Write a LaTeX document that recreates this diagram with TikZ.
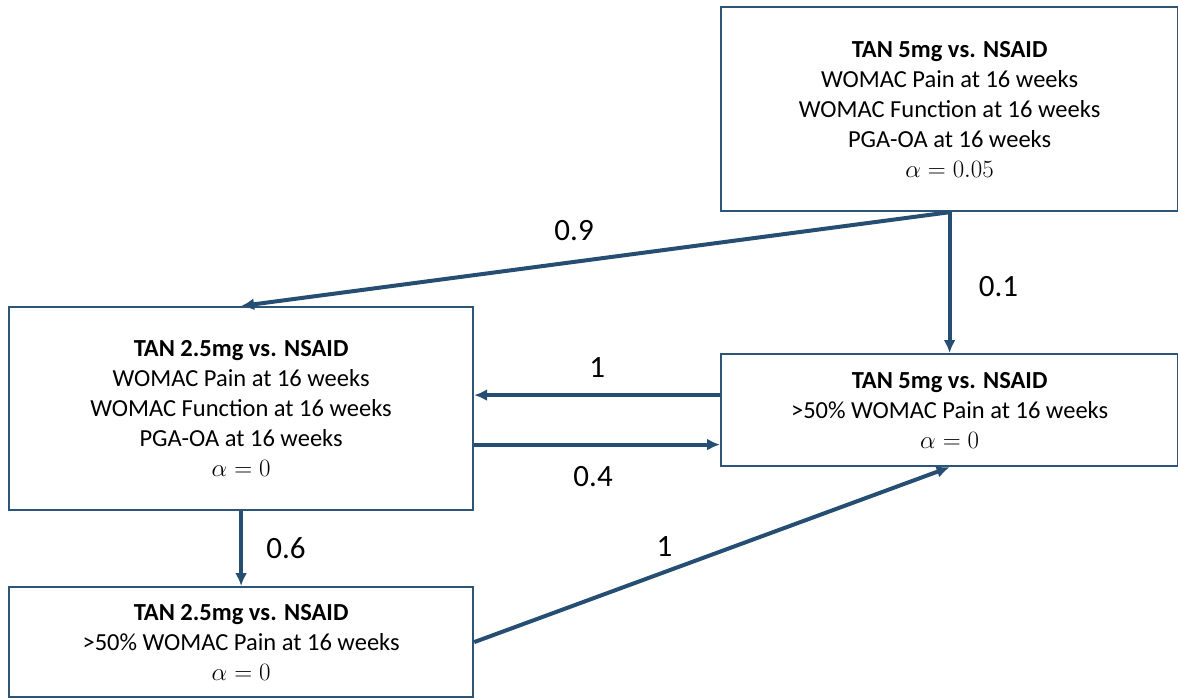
\documentclass[tikz,border=0pt]{standalone}
\usepackage{fontspec}
\setmainfont{Carlito}
\usetikzlibrary{arrows.meta,positioning,calc}
\definecolor{edge}{RGB}{38,78,115}
\definecolor{frame}{RGB}{45,85,120}
\tikzset{
  box/.style={draw=frame,line width=2.2pt,rectangle,anchor=north west,align=center,
    inner sep=0pt,font=\fontsize{24.5}{30}\selectfont},
  arr/.style={draw=edge,line width=4pt,-{Latex[length=13pt,width=12pt]}},
  lab/.style={font=\fontsize{31}{34}\selectfont,text=black}
}
\begin{document}
\begin{tikzpicture}[x=1pt,y=-1pt]
\useasboundingbox (0,0) rectangle (1178,698);
\node[box,minimum width=457pt,minimum height=204pt] (A) at (720,6)
  {\textbf{TAN 5mg vs. NSAID}\\WOMAC Pain at 16 weeks\\WOMAC Function at 16 weeks\\PGA-OA at 16 weeks\\$\alpha=0.05$};
\node[box,minimum width=464pt,minimum height=203pt] (B) at (8,306)
  {\textbf{TAN 2.5mg vs. NSAID}\\WOMAC Pain at 16 weeks\\WOMAC Function at 16 weeks\\PGA-OA at 16 weeks\\$\alpha=0$};
\node[box,minimum width=457pt,minimum height=112pt] (C) at (720,353)
  {\textbf{TAN 5mg vs. NSAID}\\>50\% WOMAC Pain at 16 weeks\\$\alpha=0$};
\node[box,minimum width=464pt,minimum height=110pt] (D) at (8,586)
  {\textbf{TAN 2.5mg vs. NSAID}\\>50\% WOMAC Pain at 16 weeks\\$\alpha=0$};
\draw[arr] (A.south) -- node[lab,pos=0.53,above=16pt] (l09) {0.9} (B.north);
\draw[arr] (A.south) -- node[lab,right=24pt,yshift=-4pt] (l01) {0.1} (C.north);
\draw[arr] ([yshift=15pt]C.west) -- node[lab,above=12pt] (l1a) {1} ([yshift=15pt]C.west -| B.east);
\draw[arr] ([yshift=-36pt]B.east) -- node[lab,below=16pt,xshift=-4pt] (l04) {0.4} ([yshift=-36pt]B.east -| C.west);
\draw[arr] (B.south) -- node[lab,right=20pt] (l06) {0.6} (D.north);
\draw[arr] (D.east) -- node[lab,pos=0.4,above=10pt] (l1b) {1} (C.south);
\end{tikzpicture}
\end{document}
